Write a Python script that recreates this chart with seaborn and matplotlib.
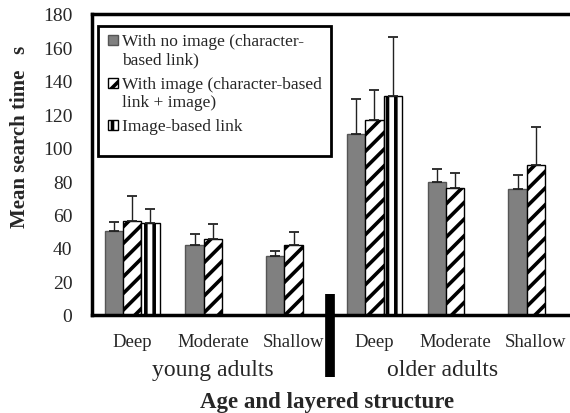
import numpy as np
import pandas as pd
import matplotlib
matplotlib.use("Agg")
import matplotlib.pyplot as plt
import seaborn as sns
from matplotlib.patches import Rectangle

# ---- data ----
groups = ["young Deep", "young Moderate", "young Shallow",
          "older Deep", "older Moderate", "older Shallow"]
tick_labels = ["Deep", "Moderate", "Shallow", "Deep", "Moderate", "Shallow"]
series = ["With no image (character-based link)",
          "With image (character-based link + image)",
          "Image-based link"]
legend_lines = [["With no image (character-", "based link)"],
                ["With image (character-based", "link + image)"],
                ["Image-based link"]]
no_image = [50, 42, 35, 108, 79.5, 75.5]
no_image_err = [5.5, 6.5, 3.5, 21, 8, 8]
with_image = [56, 45.5, 42, 116.5, 76, 89.5]
with_image_err = [15, 9, 7.5, 18, 9, 23]
image_based = [55, np.nan, np.nan, 131, np.nan, np.nan]
image_based_err = [8.5, np.nan, np.nan, 35, np.nan, np.nan]
age_labels = ["young adults", "older adults"]
y_ticks = [0, 20, 40, 60, 80, 100, 120, 140, 160, 180]

df = pd.DataFrame({
    "group": groups * 3,
    "series": [series[0]] * 6 + [series[1]] * 6 + [series[2]] * 6,
    "value": no_image + with_image + image_based,
    "err": no_image_err + with_image_err + image_based_err,
})

sns.set_style("white")
plt.rcParams["font.family"] = ["Liberation Serif", "DejaVu Serif"]
plt.rcParams["hatch.linewidth"] = 2.6
plt.rcParams["hatch.color"] = "black"

fig = plt.figure(figsize=(5.7, 4.14), dpi=100)
ax = fig.add_axes([0.161, 0.237, 0.85, 0.727])

palette = {series[0]: "#808080", series[1]: "white", series[2]: "white"}
sns.barplot(data=df, x="group", y="value", hue="series", order=groups,
            hue_order=series, palette=palette, width=0.68, dodge=True,
            edgecolor="black", linewidth=1.0, errorbar=None, ax=ax,
            legend=False, saturation=1)

hatches = ["", "//", "||"]
for cont, h, s in zip(ax.containers, hatches, series):
    sub = df[df["series"] == s].set_index("group")
    for patch in cont.patches:
        xc = patch.get_x() + patch.get_width() / 2
        g = groups[int(round(xc))]
        v = sub.loc[g, "value"]
        e = sub.loc[g, "err"]
        patch.set_hatch(h)
        if s == series[0]:
            patch.set_edgecolor("#555555")
        if np.isfinite(v) and np.isfinite(e):
            ax.errorbar(xc, v, yerr=[[0], [e]], fmt="none", ecolor="#222222",
                        elinewidth=1.0, capsize=3.5, capthick=1.3, zorder=1)

ax.set_ylim(0, 180)
ax.set_xlim(-0.5, 5.5)
ax.set_yticks(y_ticks)
ax.set_yticklabels([str(t) for t in y_ticks], fontsize=14)
ax.set_xticks(range(6))
ax.set_xticklabels(tick_labels, fontsize=13.5)
ax.tick_params(axis="y", direction="in", length=4, width=2, pad=14, color="black")
ax.tick_params(axis="x", length=0, pad=13)
for side in ["left", "bottom", "top"]:
    ax.spines[side].set_color("black")
    ax.spines[side].set_linewidth(2.5)
ax.spines["right"].set_visible(False)

ax.set_xlabel("")
ax.set_ylabel("Mean search time   s", fontsize=15, fontweight="bold")
ax.yaxis.set_label_coords(-0.128, 0.594)

# separator line
ax.plot([2.45, 2.45], [0.07, -0.205], color="black", lw=7,
        transform=ax.get_xaxis_transform(), clip_on=False, solid_capstyle="butt")

# age labels
ax.text(1.0, -0.18, age_labels[0], transform=ax.get_xaxis_transform(),
        ha="center", va="center", fontsize=17)
ax.text(3.85, -0.18, age_labels[1], transform=ax.get_xaxis_transform(),
        ha="center", va="center", fontsize=17)
fig.text(0.573, 0.027, "Age and layered structure", ha="center", va="center",
         fontsize=16.5, fontweight="bold")

# legend drawn as a boxed key (swatch beside first line of each entry)
styles = [dict(facecolor="#808080", edgecolor="#555555"),
          dict(facecolor="white", edgecolor="black", hatch="//"),
          dict(facecolor="white", edgecolor="black", hatch="||")]
entry_tops = [0.910, 0.767, 0.627]
line_step = 0.061
for st, lines, y0 in zip(styles, legend_lines, entry_tops):
    ax.add_patch(Rectangle((0.0334, y0 - 0.012), 0.0206, 0.0315,
                           transform=ax.transAxes, lw=1.0, zorder=6, **st))
    for i, ln in enumerate(lines):
        ax.text(0.0623, y0 - i * line_step, ln, transform=ax.transAxes,
                ha="left", va="center", fontsize=12.5, zorder=6)
ax.add_patch(Rectangle((0.0128, 0.528), 0.4809, 0.432, transform=ax.transAxes,
                       facecolor="white", edgecolor="black", lw=2, zorder=5,
                       clip_on=False))

fig.savefig("out.png", dpi=100)
